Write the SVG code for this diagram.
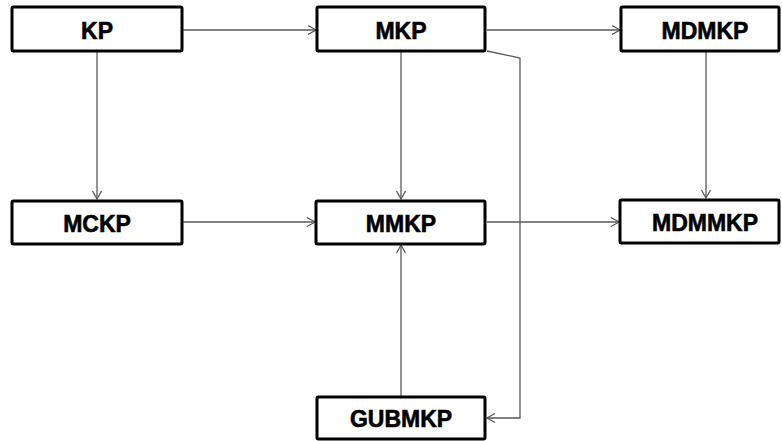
<svg xmlns="http://www.w3.org/2000/svg" width="782" height="441" viewBox="0 0 782 441">
<style>
.box{fill:#fff;stroke:#000;stroke-width:3}
.lbl{font-family:"Liberation Sans",Arial,sans-serif;font-weight:bold;font-size:23px;text-anchor:middle;fill:#000;stroke:#000;stroke-width:0.6}
.con{fill:none;stroke:#595959;stroke-width:1.3}
</style>
<defs>
<marker id="arr" markerWidth="12" markerHeight="12" refX="9" refY="6" orient="auto" markerUnits="userSpaceOnUse">
<path d="M1,1.5 L9,6 L1,10.5" fill="none" stroke="#595959" stroke-width="1.3"/>
</marker>
</defs>
<g id="connectors">
<path class="con" d="M183,30 H316" marker-end="url(#arr)"/>
<path class="con" d="M487,30 H620" marker-end="url(#arr)"/>
<path class="con" d="M97,52 V199" marker-end="url(#arr)"/>
<path class="con" d="M401,52 V199" marker-end="url(#arr)"/>
<path class="con" d="M706,52 V198" marker-end="url(#arr)"/>
<path class="con" d="M183,222 H315" marker-end="url(#arr)"/>
<path class="con" d="M487,222 H619" marker-end="url(#arr)"/>
<path class="con" d="M401,396 V245" marker-end="url(#arr)"/>
<path class="con" d="M487,51 L520,58 V418 H487" marker-end="url(#arr)"/>
</g>
<g id="KP"><rect class="box" x="12" y="7" width="170" height="44" rx="1.5"/><text class="lbl" x="97" y="39">KP</text></g>
<g id="MKP"><rect class="box" x="317" y="7" width="168" height="44" rx="1.5"/><text class="lbl" x="401" y="39">MKP</text></g>
<g id="MDMKP"><rect class="box" x="621" y="7" width="158" height="44" rx="1.5"/><text class="lbl" x="705" y="39">MDMKP</text></g>
<g id="MCKP"><rect class="box" x="12" y="201" width="170" height="43" rx="1.5"/><text class="lbl" x="97" y="232">MCKP</text></g>
<g id="MMKP"><rect class="box" x="316" y="201" width="169" height="43" rx="1.5"/><text class="lbl" x="401" y="232">MMKP</text></g>
<g id="MDMMKP"><rect class="box" x="620" y="200" width="159" height="43" rx="1.5" stroke-width="3.5"/><text class="lbl" x="705" y="231">MDMMKP</text></g>
<g id="GUBMKP"><rect class="box" x="317" y="397" width="168" height="42" rx="1.5"/><text class="lbl" x="401" y="427">GUBMKP</text></g>
</svg>
